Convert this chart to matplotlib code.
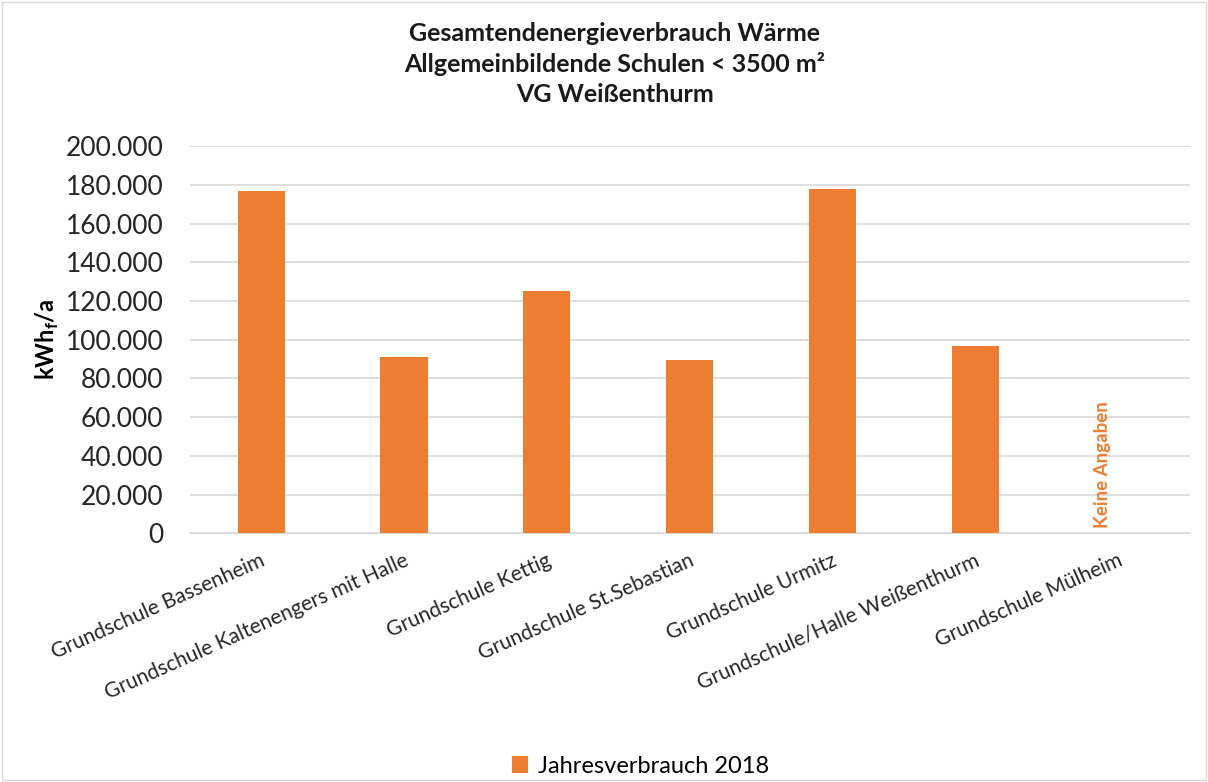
import numpy as np
import matplotlib
matplotlib.use("Agg")
import matplotlib.pyplot as plt
import matplotlib.transforms as mtransforms
from matplotlib.patches import Rectangle

plt.rcParams['font.family'] = ['Lato', 'DejaVu Sans']
plt.rcParams['mathtext.fontset'] = 'custom'
plt.rcParams['mathtext.rm'] = 'Lato'
plt.rcParams['mathtext.bf'] = 'Lato:bold'

# data
schools = ["Grundschule Bassenheim", "Grundschule Kaltenengers mit Halle",
           "Grundschule Kettig", "Grundschule St.Sebastian", "Grundschule Urmitz",
           "Grundschule/Halle Weißenthurm", "Grundschule Mülheim"]
verbrauch = [176900, 91300, 125400, 89500, 178100, 97000, np.nan]
yticks = [0, 20000, 40000, 60000, 80000, 100000, 120000, 140000, 160000, 180000, 200000]
orange = "#ED7D31"

fig = plt.figure(figsize=(12.08, 7.82), dpi=100)
ax = fig.add_axes([0.157, 0.318, 0.828, 0.495])

x = np.arange(len(schools))
ax.bar(x, verbrauch, width=0.33, color=orange, label="Jahresverbrauch 2018", zorder=3)
ax.text(x[-1] - 0.11, 3000, "Keine Angaben", rotation=90, color=orange,
        fontsize=13.5, fontweight='bold', ha='center', va='bottom')

ax.set_xlim(-0.5, len(schools) - 0.5)
ax.set_ylim(0, 200000)
ax.set_yticks(yticks)
ax.set_yticklabels([f"{v:,}".replace(",", ".") for v in yticks], fontsize=19, color="#262626")
ax.yaxis.grid(True, color="#D9D9D9", linewidth=1.2, zorder=0)
ax.tick_params(axis='y', length=0, pad=19)
ax.tick_params(axis='x', length=0)
for s in ["left", "right", "top"]:
    ax.spines[s].set_visible(False)
ax.spines["bottom"].set_color("#D9D9D9")

ax.set_xticks(x)
ax.set_xticklabels(schools, rotation=24, ha='right', va='top',
                   rotation_mode='anchor', fontsize=15, color="#262626")
offset = mtransforms.ScaledTranslation(-0.01, -0.12, fig.dpi_scale_trans)
for lab in ax.get_xticklabels():
    lab.set_transform(lab.get_transform() + offset)

ax.set_ylabel(r"kWh$_\mathbf{f}$/a", fontsize=17, fontweight='bold', labelpad=3)

fig.text(0.509, 0.972, "Gesamtendenergieverbrauch Wärme\nAllgemeinbildende Schulen < 3500 m²\nVG Weißenthurm",
         ha='center', va='top', fontsize=18, fontweight='bold', linespacing=1.35, color="#1a1a1a")

fig.legend(loc='center', bbox_to_anchor=(0.53, 0.02), frameon=False, fontsize=17,
           handlelength=0.7, handleheight=0.7, handletextpad=0.4)

fig.patches.append(Rectangle((0.002, 0.002), 0.996, 0.996, transform=fig.transFigure,
                             fill=False, edgecolor="#D9D9D9", linewidth=1))

fig.savefig("out.png", dpi=100)
